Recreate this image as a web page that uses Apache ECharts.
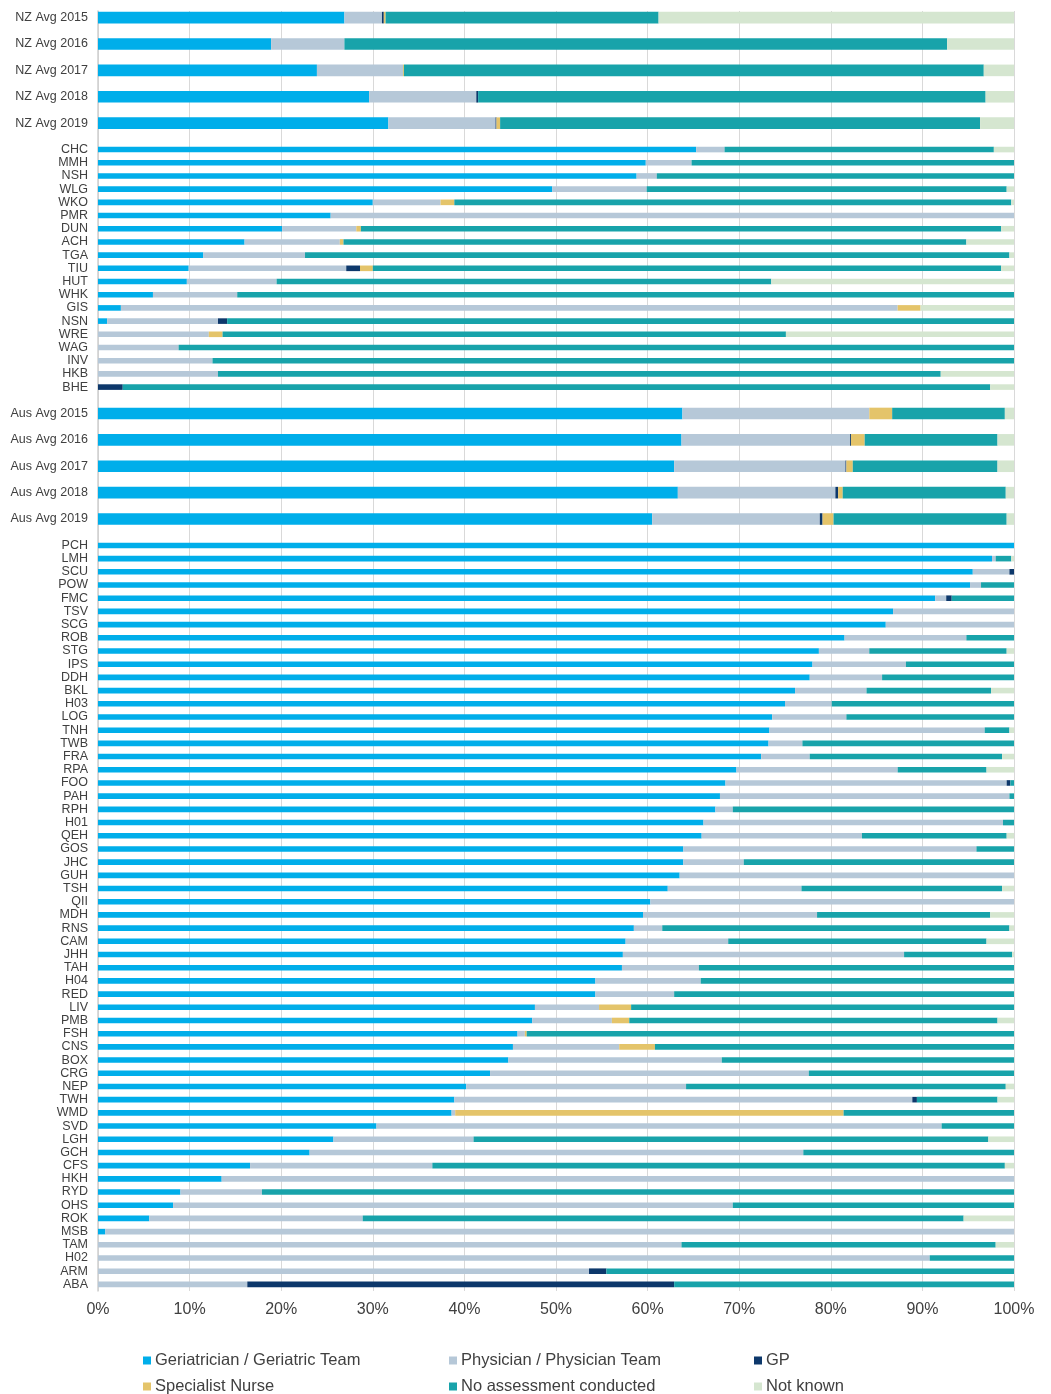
<!DOCTYPE html>
<html><head><meta charset="utf-8">
<script src="https://cdn.jsdelivr.net/npm/echarts@6/dist/echarts.min.js"></script>
<style>html,body{margin:0;padding:0;background:#fff}#c{width:1051px;height:1394px}</style>
</head><body><div id="c"></div>
<script>
const seriesNames = ['Geriatrician / Geriatric Team','Physician / Physician Team','GP','Specialist Nurse','No assessment conducted','Not known'];
const seriesColors = ['#00AEEA','#B6C8D8','#0D386B','#E4C46A','#18A3AA','#D5E6D0'];
const xTicks = [0,10,20,30,40,50,60,70,80,90,100];

// NZ averages
const nzAvgLabels = ['NZ Avg 2015','NZ Avg 2016','NZ Avg 2017','NZ Avg 2018','NZ Avg 2019'];
const nzAvgGer  = [26.9,18.9,23.9,29.6,31.7];
const nzAvgPhys = [4.1,8.0,9.4,11.7,11.7];
const nzAvgGP   = [0.2,0,0,0.2,0.1];
const nzAvgSN   = [0.2,0,0.1,0,0.4];
const nzAvgNone = [29.8,65.8,63.3,55.4,52.4];
const nzAvgNK   = [38.8,7.3,3.3,3.1,3.7];

// NZ hospitals
const nzHosp     = ['CHC','MMH','NSH','WLG','WKO','PMR','DUN','ACH','TGA','TIU','HUT','WHK','GIS','NSN','WRE','WAG','INV','HKB','BHE'];
const nzHospGer  = [65.3,59.8,58.8,49.6,30.0,25.4,20.1,16.0,11.5,9.9,9.7,6.0,2.5,1.0,0,0,0,0,0];
const nzHospPhys = [3.1,5.0,2.2,10.3,7.4,74.6,8.1,10.4,11.1,17.2,9.8,9.2,84.8,12.1,12.1,8.8,12.5,13.1,0];
const nzHospGP   = [0,0,0,0,0,0,0,0,0,1.5,0,0,0,1.0,0,0,0,0,2.7];
const nzHospSN   = [0,0,0,0,1.5,0,0.5,0.4,0,1.4,0,0,2.5,0,1.5,0,0,0,0];
const nzHospNone = [29.4,35.2,39.0,39.3,60.8,0,69.9,68.0,76.9,68.6,54.0,84.8,0,85.9,61.5,91.2,87.5,78.9,94.7];
const nzHospNK   = [2.2,0,0,0.8,0.3,0,1.4,5.2,0.5,1.4,26.5,0,10.2,0,24.9,0,0,8.0,2.6];

// Australian averages
const ausAvgLabels = ['Aus Avg 2015','Aus Avg 2016','Aus Avg 2017','Aus Avg 2018','Aus Avg 2019'];
const ausAvgGer  = [63.8,63.7,62.9,63.3,60.5];
const ausAvgPhys = [20.4,18.4,18.7,17.2,18.3];
const ausAvgGP   = [0,0.1,0.1,0.3,0.3];
const ausAvgSN   = [2.5,1.5,0.7,0.5,1.2];
const ausAvgNone = [12.3,14.5,15.8,17.8,18.9];
const ausAvgNK   = [1.0,1.8,1.8,0.9,0.8];

// Australian hospitals
const ausHosp = ['PCH','LMH','SCU','POW','FMC','TSV','SCG','ROB','STG','IPS','DDH','BKL','H03','LOG','TNH','TWB','FRA','RPA','FOO','PAH',
  'RPH','H01','QEH','GOS','JHC','GUH','TSH','QII','MDH','RNS','CAM','JHH','TAH','H04','RED','LIV','PMB','FSH','CNS','BOX',
  'CRG','NEP','TWH','WMD','SVD','LGH','GCH','CFS','HKH','RYD','OHS','ROK','MSB','TAM','H02','ARM','ABA'];
const ausHospGer = [100,97.6,95.5,95.2,91.4,86.8,86.0,81.5,78.7,78.0,77.7,76.1,75.0,73.6,73.3,73.2,72.4,69.7,68.5,67.9,
  67.4,66.1,65.9,63.9,63.9,63.5,62.2,60.3,59.5,58.5,57.6,57.3,57.2,54.3,54.3,47.7,47.4,45.8,45.3,44.8,
  42.8,40.2,38.9,38.6,30.4,25.7,23.1,16.6,13.5,9.0,8.2,5.6,0.8,0,0,0,0];
const ausHospPhys = [0,0.4,4.0,1.2,1.2,13.2,14.0,13.3,5.5,10.2,7.9,7.8,5.1,8.1,23.5,3.7,5.3,17.6,30.7,31.6,
  1.9,32.7,17.5,32.0,6.6,36.5,14.6,39.7,19.0,3.1,11.2,30.7,8.4,11.5,8.6,7.0,8.7,0.8,11.6,23.3,
  34.8,24.0,50.0,0.4,61.7,15.3,53.9,19.9,86.5,8.9,61.1,23.3,99.2,63.7,90.8,53.6,16.3];
const ausHospGP = [0,0,0.5,0,0.6,0,0,0,0,0,0,0,0,0,0,0,0,0,0.4,0,
  0,0,0,0,0,0,0,0,0,0,0,0,0,0,0,0,0,0,0,0,
  0,0,0.5,0,0,0,0,0,0,0,0,0,0,0,0,1.9,46.6];
const ausHospSN = [0,0,0,0,0,0,0,0,0,0,0,0,0,0,0,0,0,0,0,0,
  0,0,0,0,0,0,0,0,0,0,0,0,0,0,0,3.5,1.9,0.2,3.9,0,
  0,0,0,42.4,0,0,0,0,0,0,0,0,0,0,0,0,0];
const ausHospNone = [0,1.7,0,3.6,6.8,0,0,5.2,15.0,11.8,14.4,13.6,19.9,18.3,2.7,23.1,21.0,9.7,0.4,0.5,
  30.7,1.2,15.8,4.1,29.5,0,21.9,0,18.9,37.9,28.2,11.8,34.4,34.2,37.1,41.8,40.2,53.2,39.2,31.9,
  22.4,34.9,8.8,18.6,7.9,56.2,23.0,62.5,0,82.1,30.7,65.6,0,34.3,9.2,44.5,37.1];
const ausHospNK = [0,0.3,0,0,0,0,0,0,0.8,0,0,2.5,0,0,0.5,0,1.3,3.0,0,0,
  0,0,0.8,0,0,0,1.3,0,2.6,0.5,3.0,0.2,0,0,0,0,1.8,0,0,0,
  0,0.9,1.8,0,0,2.8,0,1.0,0,0,0,5.5,0,2.0,0,0,0];

// ---- build slot layout (averages use two slots each) ----
const groups = [
  {labels: nzAvgLabels, vals: [nzAvgGer,nzAvgPhys,nzAvgGP,nzAvgSN,nzAvgNone,nzAvgNK], thick: true},
  {labels: nzHosp, vals: [nzHospGer,nzHospPhys,nzHospGP,nzHospSN,nzHospNone,nzHospNK], thick: false},
  {labels: ausAvgLabels, vals: [ausAvgGer,ausAvgPhys,ausAvgGP,ausAvgSN,ausAvgNone,ausAvgNK], thick: true},
  {labels: ausHosp, vals: [ausHospGer,ausHospPhys,ausHospGP,ausHospSN,ausHospNone,ausHospNK], thick: false}
];
const cats = [];
const thin = seriesNames.map(() => []);
const thick = seriesNames.map(() => []);
function blank(){ cats.push(''); thin.forEach(a=>a.push('-')); thick.forEach(a=>a.push('-')); }
groups.forEach((g, gi) => {
  g.labels.forEach((lab, i) => {
    cats.push(lab);
    for (let s = 0; s < seriesNames.length; s++) {
      const v = g.vals[s][i];
      if (g.thick) { thick[s].push(v); thin[s].push('-'); }
      else { thin[s].push(v); thick[s].push('-'); }
    }
    if (g.thick) blank();
  });
  if (!g.thick && gi < groups.length - 1) blank();
});

const font = "'Liberation Sans', Arial, sans-serif";
const series = [];
seriesNames.forEach((n, s) => {
  series.push({name: n, type: 'bar', stack: 'thin', yAxisIndex: 0, barWidth: 5.6, data: thin[s],
    itemStyle: {color: seriesColors[s]}, emphasis: {disabled: true}});
  series.push({name: n, type: 'bar', stack: 'thick', yAxisIndex: 1, barWidth: 11.6, data: thick[s],
    itemStyle: {color: seriesColors[s]}, emphasis: {disabled: true}});
});

const legendPos = [[143,1350],[449,1350],[754,1350],[143,1376],[449,1376],[754,1376]];
const legends = seriesNames.map((n, i) => ({
  data: [n], left: legendPos[i][0], top: legendPos[i][1] + 2, icon: 'rect', itemWidth: 8, itemHeight: 8,
  itemGap: 0, padding: 0, selectedMode: false,
  textStyle: {fontSize: 16.5, color: '#404040', fontFamily: font, padding: [0,0,0,-1]}
}));

const chart = echarts.init(document.getElementById('c'), null, {renderer: 'canvas'});
chart.setOption({
  animation: false,
  backgroundColor: '#fff',
  grid: {left: 98, right: 37, top: 11, bottom: 103, containLabel: false},
  legend: legends,
  xAxis: {type: 'value', min: xTicks[0], max: xTicks[xTicks.length-1], interval: 10,
    axisLine: {show: false}, axisTick: {show: false},
    splitLine: {show: true, lineStyle: {color: '#D9D9D9', width: 1}},
    axisLabel: {formatter: '{value}%', fontSize: 16, color: '#404040', fontFamily: font, margin: 11}},
  yAxis: [
    {type: 'category', data: cats, inverse: true,
      axisLine: {show: true, lineStyle: {color: '#CFCFCF', width: 1.5}}, axisTick: {show: false},
      axisLabel: {interval: 0, fontSize: 12.5, color: '#404040', fontFamily: font, margin: 10}},
    {type: 'category', data: cats, inverse: true, show: false}
  ],
  series: series
});
</script></body></html>
